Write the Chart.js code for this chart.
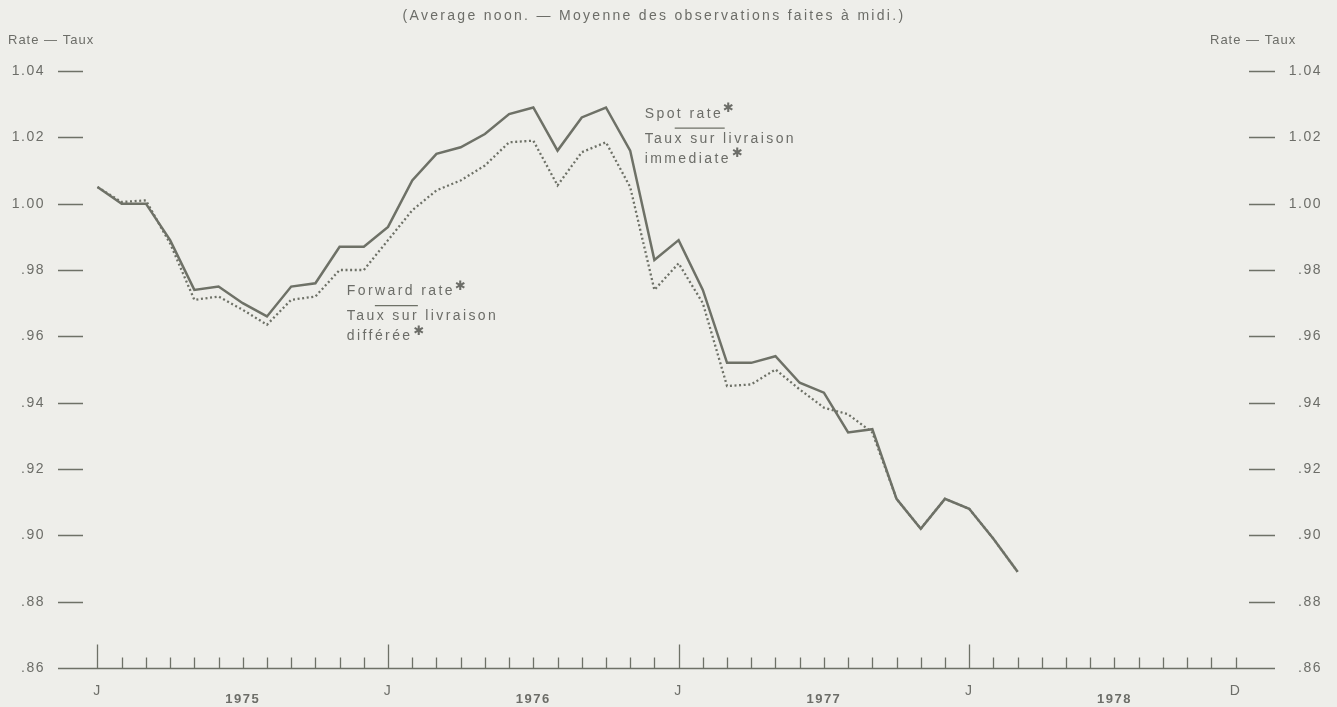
<!DOCTYPE html>
<html>
<head>
<meta charset="utf-8">
<title>Spot and forward rate</title>
<script src="https://cdn.jsdelivr.net/npm/chart.js@4.4.0/dist/chart.umd.min.js"></script>
<style>
  html, body { margin: 0; padding: 0; background: #eeeeea; }
  #wrap { width: 1337px; height: 707px; }
</style>
</head>
<body>
<div id="wrap"><canvas id="myChart"></canvas></div>
<script>
// month index 0 = January 1975, monthly averages up to March 1978
const years = ['1975', '1976', '1977', '1978'];
const spotRate = [
  1.005, 1.000, 1.000, 0.989, 0.974, 0.975, 0.970, 0.966, 0.975, 0.976, 0.987, 0.987,
  0.993, 1.007, 1.015, 1.017, 1.021, 1.027, 1.029, 1.016, 1.026, 1.029, 1.016, 0.983,
  0.989, 0.974, 0.952, 0.952, 0.954, 0.946, 0.943, 0.931, 0.932, 0.911, 0.902, 0.911,
  0.908, 0.899, 0.889
];
const forwardRate = [
  1.005, 1.0005, 1.001, 0.988, 0.971, 0.972, 0.968, 0.9635, 0.971, 0.972, 0.980, 0.980,
  0.989, 0.998, 1.004, 1.007, 1.0115, 1.0185, 1.019, 1.0055, 1.0155, 1.0185, 1.005, 0.974,
  0.982, 0.970, 0.945, 0.9455, 0.950, 0.944, 0.9385, 0.9365, 0.931, 0.911, 0.902, 0.911,
  0.908, 0.899, 0.889
];
const yTicks = [0.86, 0.88, 0.90, 0.92, 0.94, 0.96, 0.98, 1.00, 1.02, 1.04];

const ink = '#6e7167';
const textInk = '#6c6d68';
const family = '"Liberation Sans", Arial, Helvetica, sans-serif';

function rateLabel(v) {
  const r = Math.round(v * 100) / 100;
  const s = r.toFixed(2);
  return r < 1 ? s.slice(1) : s;
}

function monthLabel(v) {
  if (v < 0 || v > 47 || v !== Math.round(v)) return '';
  if (v === 47) return 'D';
  if (v % 12 === 0) return 'J';
  if (v % 12 === 6) return ['', years[v / 12 | 0]];
  return '';
}

const paper = {
  id: 'paper',
  beforeDraw(chart) {
    const c = chart.ctx;
    c.save();
    c.fillStyle = '#eeeeea';
    c.fillRect(0, 0, chart.width, chart.height);
    c.restore();
    c.letterSpacing = '1.5px';
  },
  afterDraw(chart) {
    const c = chart.ctx;
    const a = chart.chartArea;
    const x = chart.scales.x, y = chart.scales.y;
    const base = Math.round(y.getPixelForValue(0.86)) + 0.5;
    c.save();
    c.strokeStyle = ink;
    c.lineWidth = 1.3;
    c.beginPath();
    c.moveTo(a.left, base); c.lineTo(a.right, base);
    for (let m = 0; m < 48; m++) {
      const px = Math.round(x.getPixelForValue(m)) + 0.5;
      const h = m % 12 === 0 ? 24 : 11;
      c.moveTo(px, base); c.lineTo(px, base - h);
    }
    yTicks.slice(1).forEach(v => {
      const py = Math.round(y.getPixelForValue(v)) + 0.5;
      c.moveTo(a.left, py); c.lineTo(a.left + 25, py);
      c.moveTo(a.right - 26, py); c.lineTo(a.right, py);
    });
    c.stroke();

    // header texts
    c.fillStyle = textInk;
    c.textBaseline = 'middle';
    c.font = '14px ' + family;
    c.letterSpacing = '2.3px';
    c.textAlign = 'center';
    c.fillText('(Average noon. \u2014 Moyenne des observations faites \u00e0 midi.)', 654, 16);
    c.font = '13px ' + family;
    c.letterSpacing = '1px';
    c.textAlign = 'left';
    c.fillText('Rate \u2014 Taux', 8, 40);
    c.fillText('Rate \u2014 Taux', 1210, 40);

    // series labels
    function star(px, py) {
      c.save();
      c.font = 'bold 13px "DejaVu Sans"';
      c.letterSpacing = '0px';
      c.fillText('\u2731', px, py);
      c.restore();
    }
    function note(lines, mx, v, lineFrom, lineTo) {
      const px = x.getPixelForValue(mx);
      const py = y.getPixelForValue(v);
      c.font = '14px ' + family;
      c.letterSpacing = '2.4px';
      c.textAlign = 'left';
      let w = c.measureText(lines[0]).width;
      c.fillText(lines[0], px, py);
      star(px + w, py - 5);
      c.beginPath();
      c.moveTo(px + lineFrom, py + 14); c.lineTo(px + lineTo, py + 14);
      c.lineWidth = 1.3; c.strokeStyle = ink; c.stroke();
      c.fillText(lines[1], px, py + 25);
      w = c.measureText(lines[2]).width;
      c.fillText(lines[2], px, py + 45);
      star(px + w + 1, py + 40);
    }
    note(['Spot rate', 'Taux sur livraison', 'immediate'], 22.6, 1.027, 30, 80);
    note(['Forward rate', 'Taux sur livraison', 'diff\u00e9r\u00e9e'], 10.3, 0.9735, 28, 71);
    c.restore();
  }
};

const data = {
  datasets: [{
    label: 'Spot rate',
    data: spotRate.map((v, i) => ({ x: i, y: v })),
    borderColor: ink,
    borderWidth: 2.5,
    pointRadius: 0,
    tension: 0
  },
  {
    label: 'Forward rate',
    data: forwardRate.map((v, i) => ({ x: i, y: v })),
    borderColor: ink,
    borderWidth: 2.3,
    borderDash: [2, 2.6],
    pointRadius: 0,
    tension: 0
  }]
};

const config = {
  type: 'line',
  data: data,
  plugins: [paper],
  options: {
    responsive: true,
    maintainAspectRatio: false,
    animation: false,
    layout: { padding: { top: 71, left: 0, right: 15, bottom: 0 } },
    plugins: {
      legend: { display: false },
      title: { display: false },
      tooltip: { enabled: false }
    },
    scales: {
      x: {
        type: 'linear',
        min: -1.63,
        max: 48.63,
        grid: { display: false },
        border: { display: false },
        afterFit: s => { s.height = 39; },
        ticks: {
          stepSize: 1,
          autoSkip: false,
          maxRotation: 0,
          minRotation: 0,
          padding: 7,
          color: textInk,
          font: ctx => (ctx.tick && ctx.tick.value % 12 === 6)
            ? { family: family, size: 13, weight: 'bold', lineHeight: '11px' }
            : { family: family, size: 14 },
          callback: v => monthLabel(v)
        }
      },
      y: {
        position: 'left',
        min: 0.86,
        max: 1.04,
        grid: { display: false },
        border: { display: false },
        afterFit: s => { s.width = 58; },
        ticks: {
          stepSize: 0.02,
          padding: 5,
          color: textInk,
          font: { family: family, size: 14 },
          callback: v => rateLabel(v)
        }
      },
      y2: {
        position: 'right',
        min: 0.86,
        max: 1.04,
        grid: { display: false },
        border: { display: false },
        afterFit: s => { s.width = 47; },
        ticks: {
          stepSize: 0.02,
          padding: 10,
          crossAlign: 'far',
          color: textInk,
          font: { family: family, size: 14 },
          callback: v => rateLabel(v)
        }
      }
    }
  }
};

const myChart = new Chart(document.getElementById('myChart'), config);
</script>
</body>
</html>
